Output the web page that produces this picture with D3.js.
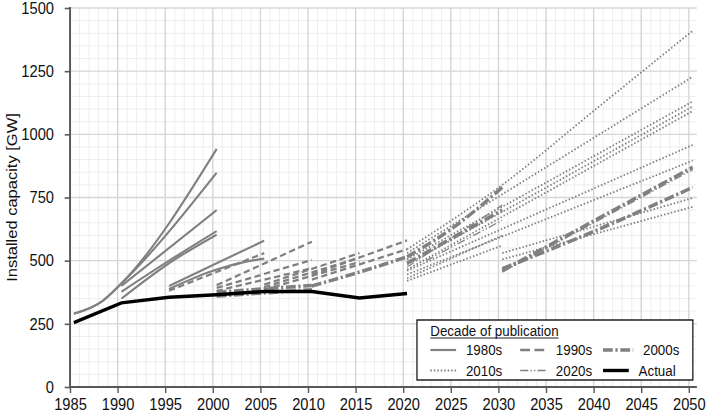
<!DOCTYPE html>
<meta charset="utf-8">
<title>Installed capacity projections</title>
<body>
<script src="https://cdn.jsdelivr.net/npm/d3@7"></script>
<style>
html, body {
    margin: 0;
    background: #fff;
}
svg {
    display: block;
    font-family: "Liberation Sans", Arial, sans-serif;
}
</style>
<script>
// tick labels
var yearTicks = d3.range(1985, 2051, 5);
var capTicks = [0, 250, 500, 750, 1000, 1250, 1500];

// actual installed capacity
var actual = [[1985, 255], [1990, 333], [1995, 355], [2000, 365], [2005, 378],
              [2010, 378], [2015, 352], [2020, 370]];

// projections, grouped by decade of publication: [year, GW]
var proj1980s = [
    [[1985, 290], [1988, 340], [1990, 410], [2000, 942]],
    [[1985, 290], [1988, 340], [1990, 410], [2000, 848]],
    [[1990, 400], [2000, 700]],
    [[1990, 377], [1995, 500], [2000, 617]],
    [[1990, 350], [1995, 490], [2000, 603]],
    [[1995, 400], [2000, 490], [2005, 579]],
    [[1995, 388], [2000, 465], [2003, 495], [2005, 508]]
];
var proj1990s = [
    [[1995, 381], [2005, 530]],
    [[2000, 403], [2010, 575]],
    [[2000, 392], [2010, 503]],
    [[2000, 380], [2010, 470]],
    [[2005, 405], [2015, 530]],
    [[2005, 395], [2015, 512]],
    [[2005, 385], [2015, 495]],
    [[2010, 445], [2020, 580]],
    [[2010, 425], [2020, 545]]
];
var proj2000s = [
    [[2000, 360], [2010, 385]],
    [[2000, 375], [2010, 402]],
    [[2010, 400], [2015, 455], [2020, 515]],
    [[2020, 515], [2025, 635], [2030, 790]],
    [[2020, 490], [2030, 700]],
    [[2030, 460], [2040, 665], [2050, 870]],
    [[2030, 468], [2040, 622], [2050, 790]]
];
var proj2010s = [
    [[2020, 545], [2030, 800], [2040, 1105], [2050, 1410]],
    [[2020, 530], [2050, 1228]],
    [[2020, 505], [2050, 1130]],
    [[2020, 485], [2050, 1110]],
    [[2020, 465], [2050, 1092]],
    [[2020, 460], [2050, 958]],
    [[2020, 445], [2050, 896]],
    [[2020, 430], [2030, 600]],
    [[2020, 420], [2030, 560]],
    [[2030, 530], [2050, 748]],
    [[2030, 505], [2050, 713]]
];
var proj2020s = [
    [[2020, 475], [2030, 720]],
    [[2022, 500], [2030, 660]],
    [[2030, 455], [2050, 860]]
];

var grey = "#808080";
var styles = [
    {label: "1980s", data: proj1980s, color: grey, width: 2.2, dash: null},
    {label: "1990s", data: proj1990s, color: grey, width: 2.3, dash: "7,4"},
    {label: "2000s", data: proj2000s, color: grey, width: 3.6, dash: "11,3,2.5,3"},
    {label: "2010s", data: proj2010s, color: grey, width: 1.8, dash: "1.7,2.2"},
    {label: "2020s", data: proj2020s, color: grey, width: 1.3, dash: "9,2.5,1.5,2.5,1.5,2.5"},
    {label: "Actual", data: [actual], color: "#000", width: 3.4, dash: null}
];

// the picture is drawn on an 800 wide canvas and squeezed into 712 px
var width = 800,
    height = 413,
    plotL = 78.7,
    plotR = 783,
    plotT = 8,
    plotB = 387,
    offset = 0.4;

var svg = d3.select("body").append("svg")
    .attr("width", 712)
    .attr("height", height)
    .attr("viewBox", "0 0 " + width + " " + height)
    .attr("preserveAspectRatio", "none");

var x = d3.scaleLinear().domain([1985, 2050]).range([plotL, 774]);
var y = d3.scaleLinear().domain([0, 1500]).range([plotB, plotT]);

// grid
var grid = svg.append("g");
grid.selectAll(".minx")
    .data(d3.range(1986, 2051).filter(function(d) { return d % 5; }))
    .enter().append("line")
    .attr("x1", x).attr("x2", x)
    .attr("y1", plotT).attr("y2", plotB)
    .attr("stroke", "#ececec").attr("stroke-width", 1);
grid.selectAll(".miny")
    .data(d3.range(50, 1500, 50).filter(function(d) { return d % 250; }))
    .enter().append("line")
    .attr("x1", plotL).attr("x2", plotR)
    .attr("y1", y).attr("y2", y)
    .attr("stroke", "#ececec").attr("stroke-width", 1);
grid.selectAll(".majx")
    .data(yearTicks.slice(1))
    .enter().append("line")
    .attr("x1", x).attr("x2", x)
    .attr("y1", plotT).attr("y2", plotB)
    .attr("stroke", "#d6d6d6").attr("stroke-width", 1.6);
grid.selectAll(".majy")
    .data(capTicks.slice(1))
    .enter().append("line")
    .attr("x1", plotL).attr("x2", plotR)
    .attr("y1", y).attr("y2", y)
    .attr("stroke", "#d6d6d6").attr("stroke-width", 1.4);

// projections
var line = d3.line()
    .curve(d3.curveMonotoneX)
    .x(function(d) { return x(d[0] + offset); })
    .y(function(d) { return y(d[1]); });

styles.forEach(function(s) {
    svg.append("g").selectAll("path")
        .data(s.data)
        .enter().append("path")
        .attr("d", s.label == "Actual" ? line.curve(d3.curveLinear) : line.curve(d3.curveMonotoneX))
        .attr("fill", "none")
        .attr("stroke", s.color)
        .attr("stroke-width", s.width)
        .attr("stroke-dasharray", s.dash);
});

// axes
var xAxis = svg.append("g")
    .attr("transform", "translate(0," + plotB + ")")
    .call(d3.axisBottom(x).tickValues(yearTicks).tickFormat(d3.format("d"))
        .tickSize(6).tickSizeOuter(0).tickPadding(5));
var yAxis = svg.append("g")
    .attr("transform", "translate(" + plotL + ",0)")
    .call(d3.axisLeft(y).tickValues(capTicks).tickFormat(d3.format("d"))
        .tickSize(6).tickSizeOuter(0).tickPadding(12));

[xAxis, yAxis].forEach(function(a) {
    a.select(".domain").remove();
    a.selectAll(".tick line").attr("stroke", "#595959").attr("stroke-width", 1.6);
    a.selectAll(".tick text").attr("fill", "#111")
        .style("font-size", "16.5px")
        .style("font-family", "'Liberation Sans', Arial, sans-serif");
});

svg.append("line")
    .attr("x1", plotL).attr("x2", plotR)
    .attr("y1", plotB).attr("y2", plotB)
    .attr("stroke", "#595959").attr("stroke-width", 2);
svg.append("line")
    .attr("x1", plotL).attr("x2", plotL)
    .attr("y1", plotT - 1).attr("y2", plotB)
    .attr("stroke", "#595959").attr("stroke-width", 2.2);

svg.append("text")
    .attr("transform", "translate(19," + ((plotT + plotB) / 2) + ")rotate(-90)")
    .attr("text-anchor", "middle")
    .style("font-size", "16.5px")
    .attr("fill", "#111")
    .text("Installed capacity [GW]");

// legend
var legend = svg.append("g").attr("transform", "translate(468.5,320)");
legend.append("rect")
    .attr("width", 310).attr("height", 60)
    .attr("fill", "#fff").attr("stroke", "#000").attr("stroke-width", 1.3);
var title = legend.append("text")
    .attr("x", 15).attr("y", 16)
    .style("font-size", "15px")
    .attr("fill", "#111")
    .text("Decade of publication");
legend.append("line")
    .attr("x1", 15).attr("x2", 15 + title.node().getComputedTextLength())
    .attr("y1", 18).attr("y2", 18)
    .attr("stroke", "#111").attr("stroke-width", 1);

var cols = [15, 116, 209];
var items = legend.selectAll(".item")
    .data(styles)
    .enter().append("g")
    .attr("transform", function(d, i) {
        return "translate(" + cols[i % 3] + "," + (i < 3 ? 30 : 50.5) + ")";
    });
items.append("line")
    .attr("x1", 0).attr("x2", function(d) { return d.label == "2000s" ? 34 : 29; })
    .attr("stroke", function(d) { return d.color; })
    .attr("stroke-width", function(d) { return d.width; })
    .attr("stroke-dasharray", function(d) { return d.label == "1990s" ? "11,5" : d.dash; });
items.append("text")
    .attr("x", function(d) { return d.label == "2000s" ? 45 : 40; })
    .attr("y", 5)
    .style("font-size", "15px")
    .attr("fill", "#111")
    .text(function(d) { return d.label; });
</script>
